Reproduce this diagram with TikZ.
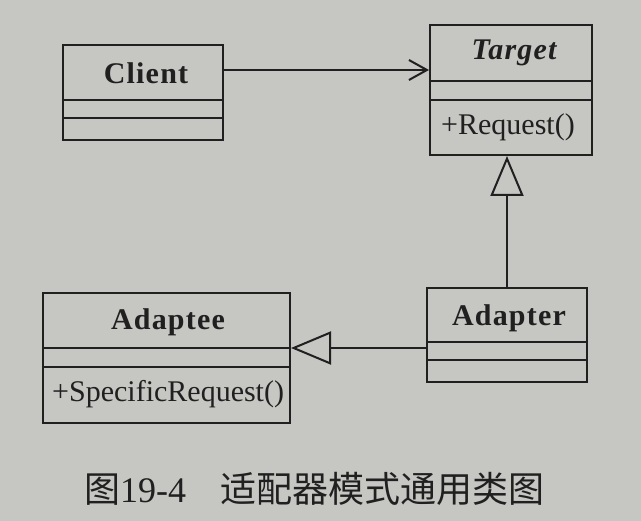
\documentclass[tikz,border=0pt]{standalone}
\usepackage{fontspec}
\setmainfont{Liberation Serif}
\newfontfamily\cjk{Noto Sans CJK SC}
\usetikzlibrary{arrows.meta,calc}
\definecolor{bg}{RGB}{198,198,195}
\definecolor{ink}{RGB}{32,32,32}
\begin{document}
\begin{tikzpicture}[x=1pt,y=-1pt,
  classbox/.style={draw=ink, line width=2pt, rectangle, inner sep=0pt},
  cname/.style={font=\fontsize{30}{32}\selectfont\bfseries\addfontfeature{LetterSpace=4}, text=ink, inner sep=0pt},
  cop/.style={font=\fontsize{30}{32}\selectfont, text=ink, inner sep=0pt, anchor=west},
  sep/.style={draw=ink, line width=2pt},
  assoc/.style={draw=ink, line width=2pt, -{Straight Barb[length=18pt,width=20pt,line width=2pt]}},
  gen/.style={draw=ink, line width=2pt, -{Triangle[length=40pt,width=33pt,fill=bg,line width=2pt]}}]
\fill[bg] (0,0) rectangle (641,521);
\useasboundingbox (0,0) rectangle (641,521);

% Client
\node[classbox, minimum width=160pt, minimum height=95pt] (Client) at (143,92.5) {};
\draw[sep] (Client.west |- 0,100) -- (Client.east |- 0,100);
\draw[sep] (Client.west |- 0,118) -- (Client.east |- 0,118);
\node[cname] (ClientName) at (146,73) {Client};

% Target
\node[classbox, minimum width=162pt, minimum height=130pt] (Target) at (511,90) {};
\draw[sep] (Target.west |- 0,81) -- (Target.east |- 0,81);
\draw[sep] (Target.west |- 0,100) -- (Target.east |- 0,100);
\node[cname, font=\fontsize{30}{32}\selectfont\bfseries\itshape\addfontfeature{LetterSpace=4}] (TargetName) at (514,53) {Target};
\node[cop] (TargetOp) at (441,127) {+Request()};

% Adapter
\node[classbox, minimum width=160pt, minimum height=94pt] (Adapter) at (507,335) {};
\draw[sep] (Adapter.west |- 0,342) -- (Adapter.east |- 0,342);
\draw[sep] (Adapter.west |- 0,360) -- (Adapter.east |- 0,360);
\node[cname] (AdapterName) at (509,318) {Adapter};

% Adaptee
\node[classbox, minimum width=247pt, minimum height=130pt] (Adaptee) at (166.5,358) {};
\draw[sep] (Adaptee.west |- 0,348) -- (Adaptee.east |- 0,348);
\draw[sep] (Adaptee.west |- 0,367) -- (Adaptee.east |- 0,367);
\node[cname] (AdapteeName) at (168,322) {Adaptee};
\node[cop] (AdapteeOp) at (52,394) {+SpecificRequest()};

% connectors
\coordinate (c1) at ([yshift=22.5pt]Client.east);
\draw[assoc] (c1) -- (c1 -| Target.west);
\draw[gen] (Adapter.north) -- (Adapter.north |- Target.south);
\coordinate (c2) at ([yshift=10pt]Adaptee.east);
\draw[gen] (c2 -| Adapter.west) -- (c2);

% caption
\node[font=\fontsize{36}{40}\selectfont, text=ink, anchor=west, inner sep=0pt] (cap) at (84,489) {{\cjk 图}19-4\hspace{34pt}{\cjk 适配器模式通用类图}};
\end{tikzpicture}
\end{document}
